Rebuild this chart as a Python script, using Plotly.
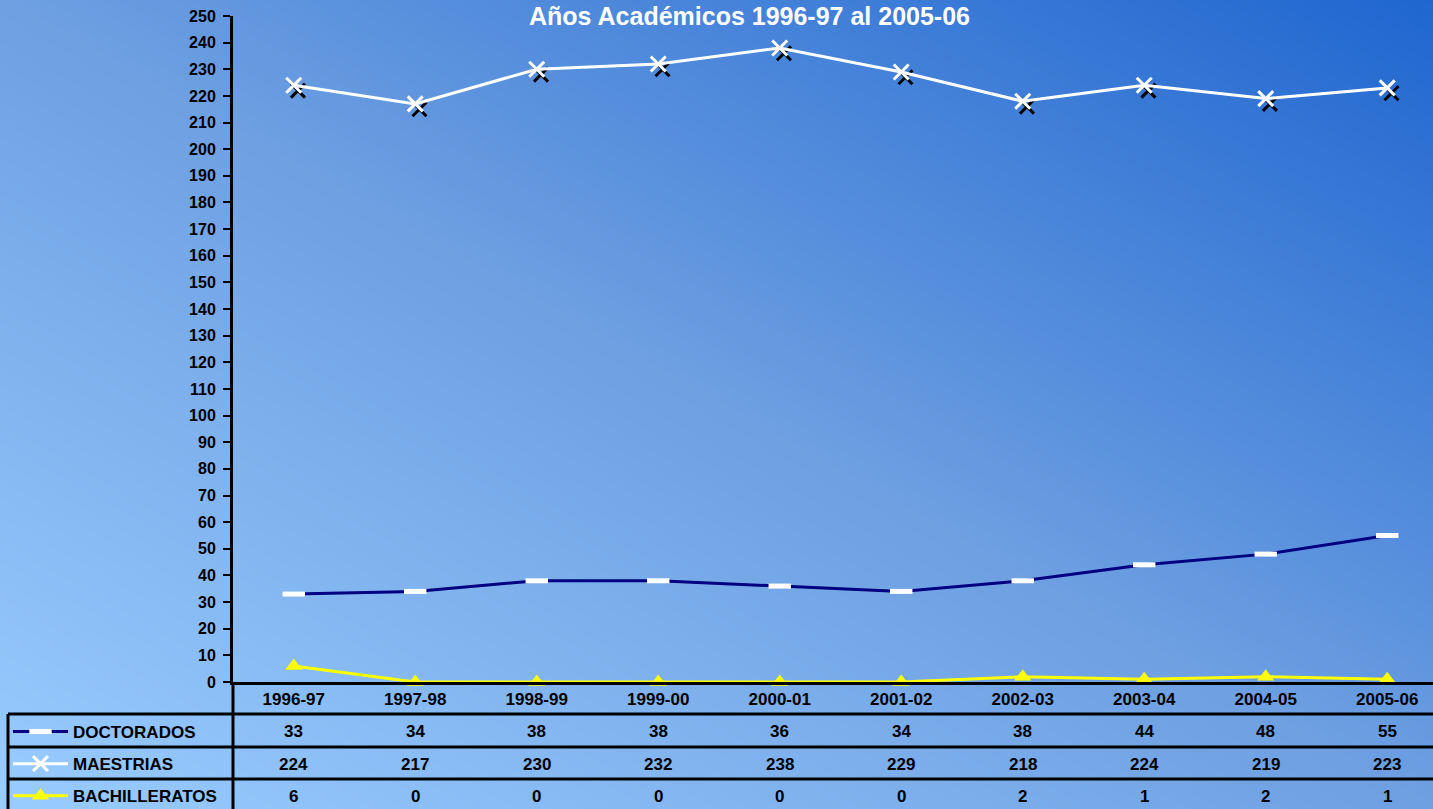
import plotly.graph_objects as go

# data
years = ["1996-97", "1997-98", "1998-99", "1999-00", "2000-01",
         "2001-02", "2002-03", "2003-04", "2004-05", "2005-06"]
doctorados = [33, 34, 38, 38, 36, 34, 38, 44, 48, 55]
maestrias = [224, 217, 230, 232, 238, 229, 218, 224, 219, 223]
bachilleratos = [6, 0, 0, 0, 0, 0, 2, 1, 2, 1]

series_names = ["DOCTORADOS", "MAESTRIAS", "BACHILLERATOS"]
series_values = [doctorados, maestrias, bachilleratos]

W, H = 1433, 809
FONT = "Arial, Liberation Sans, sans-serif"


def px(x):
    return x / W


def py(y):
    return (H - y) / H


idx = list(range(len(years)))

fig = go.Figure()

# gradient background (light bottom-left -> dark top-right)
fig.add_trace(go.Heatmap(x=[0, 1], y=[0, 1], z=[[0.0, 0.5], [0.5, 1.0]],
                         zsmooth="best", showscale=False, hoverinfo="skip",
                         colorscale=[[0, "#99CCFF"], [0.5, "#6EA0E2"], [1, "#1F66D0"]],
                         xaxis="x", yaxis="y"))

fig.add_trace(go.Scatter(name="DOCTORADOS", x=idx, y=doctorados, mode="lines+markers",
                         line=dict(color="#000080", width=3),
                         marker=dict(symbol="line-ew-open", size=16, color="white",
                                     line=dict(color="white", width=5)),
                         legendgroup="a", cliponaxis=False, xaxis="x2", yaxis="y2"))

# black shadow of the X markers
fig.add_trace(go.Scatter(x=[i + 0.035 for i in idx], y=[v - 2.0 for v in maestrias],
                         mode="markers", showlegend=False, hoverinfo="skip",
                         marker=dict(symbol="x-thin-open", size=14, color="black",
                                     line=dict(color="black", width=3)),
                         cliponaxis=False, xaxis="x2", yaxis="y2"))

fig.add_trace(go.Scatter(name="MAESTRIAS", x=idx, y=maestrias, mode="lines+markers",
                         line=dict(color="white", width=3),
                         marker=dict(symbol="x-thin-open", size=15, color="white",
                                     line=dict(color="white", width=3)),
                         legendgroup="b", cliponaxis=False, xaxis="x2", yaxis="y2"))

fig.add_trace(go.Scatter(name="BACHILLERATOS", x=idx, y=bachilleratos, mode="lines+markers",
                         line=dict(color="#FFFF00", width=3),
                         marker=dict(symbol="triangle-up", size=15, color="#FFFF00"),
                         legendgroup="c", cliponaxis=False, xaxis="x2", yaxis="y2"))

# data table values
row_y = [731, 764, 796]
annotations = []
for r, vals in enumerate(series_values):
    for i, v in enumerate(vals):
        annotations.append(dict(x=i, y=py(row_y[r]), xref="x2", yref="paper",
                                xanchor="center", yanchor="middle",
                                text=str(v), showarrow=False,
                                font=dict(family=FONT, size=17, color="black", weight="bold")))

annotations.append(dict(x=px(749), y=1, xref="paper", yref="paper",
                        xanchor="center", yanchor="top",
                        text="Años Académicos 1996-97 al 2005-06", showarrow=False,
                        font=dict(family=FONT, size=25, color="white", weight="bold")))

# table grid
shapes = []
for yl in [714, 747, 779]:
    shapes.append(dict(type="line", xref="paper", yref="paper", x0=px(8), x1=1,
                       y0=py(yl), y1=py(yl), line=dict(color="black", width=3)))
shapes.append(dict(type="line", xref="paper", yref="paper", x0=px(8), x1=px(8),
                   y0=py(714), y1=0, line=dict(color="black", width=3)))
shapes.append(dict(type="line", xref="paper", yref="paper", x0=px(233), x1=px(233),
                   y0=py(682), y1=0, line=dict(color="black", width=3)))

fig.update_layout(
    width=W, height=H,
    margin=dict(l=0, r=0, t=0, b=0, autoexpand=False),
    paper_bgcolor="#6EA0E2",
    plot_bgcolor="rgba(0,0,0,0)",
    font=dict(family=FONT, size=16, color="black"),
    xaxis=dict(domain=[0, 1], range=[0, 1], visible=False, fixedrange=True),
    yaxis=dict(domain=[0, 1], range=[0, 1], visible=False, fixedrange=True),
    xaxis2=dict(domain=[px(233), 1], anchor="y2", range=[-0.5, 9.377],
                tickvals=idx, ticktext=years, showgrid=False, zeroline=False,
                showline=True, linecolor="black", linewidth=3, ticks="",
                layer="above traces",
                tickfont=dict(family=FONT, size=17, color="black", weight="bold")),
    yaxis2=dict(domain=[py(682), py(16)], anchor="x2", range=[0, 250], dtick=10,
                showgrid=False, zeroline=False, showline=True, linecolor="black",
                linewidth=3, ticks="outside", ticklen=7, tickwidth=2, tickcolor="black",
                layer="above traces", ticklabelstandoff=4,
                tickfont=dict(family=FONT, size=16, color="black", weight="bold")),
    showlegend=True,
    legend=dict(x=px(8), y=py(714), xanchor="left", yanchor="top",
                bgcolor="rgba(0,0,0,0)", borderwidth=0, itemwidth=55,
                tracegroupgap=7, traceorder="grouped",
                font=dict(family=FONT, size=17, color="black", weight="bold")),
    annotations=annotations,
    shapes=shapes,
)

fig.write_html("out.html", config={"displayModeBar": False},
               post_script="document.body.style.margin='0';")
